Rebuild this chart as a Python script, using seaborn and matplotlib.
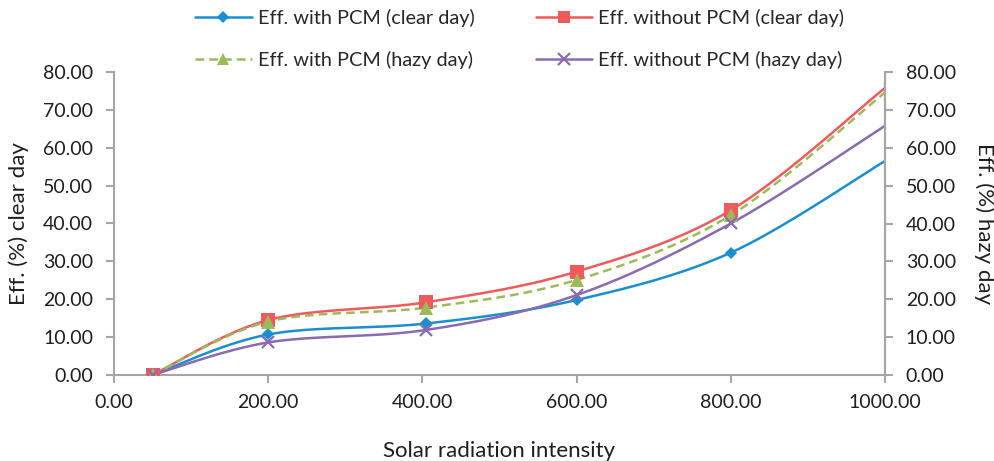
import numpy as np
import pandas as pd
import matplotlib
matplotlib.use("Agg")
import matplotlib.pyplot as plt
from matplotlib.lines import Line2D
import seaborn as sns

# ---- data ----
radiation = [50, 200, 405, 600, 800, 1000]
with_pcm_clear = [0.0, 10.7, 13.6, 19.8, 32.3, 56.5]
without_pcm_clear = [0.0, 14.5, 19.2, 27.3, 43.5, 75.8]
with_pcm_hazy = [0.0, 14.1, 17.8, 25.1, 42.2, 74.6]
without_pcm_hazy = [0.0, 8.6, 11.9, 21.1, 40.0, 65.8]
series_names = ["Eff. with PCM (clear day)", "Eff. without PCM (clear day)",
                "Eff. with PCM (hazy day)", "Eff. without PCM (hazy day)"]
x_ticks = [0, 200, 400, 600, 800, 1000]
y_ticks = [0, 10, 20, 30, 40, 50, 60, 70, 80]

sns.set_theme(style="white")
plt.rcParams["font.family"] = ["Lato", "DejaVu Sans"]

colors = ["#1a8fd0", "#f05a5a", "#9bbb59", "#8a6bb0"]
markers = ["D", "s", "^", "x"]
msizes = [6.5, 10, 10, 9]
styles = ["-", "-", (0, (3.5, 2)), "-"]
TXT = "#1e1e1e"


def smooth(xs, ys, sx=0.771, sy=3.79, n=40):
    # Catmull-Rom (Excel-like) smoothing in screen-scaled space
    P = np.column_stack([np.asarray(xs, float) * sx, np.asarray(ys, float) * sy])
    out = []
    for i in range(len(P) - 1):
        p0 = P[i - 1] if i > 0 else P[i]
        p1, p2 = P[i], P[i + 1]
        p3 = P[i + 2] if i + 2 < len(P) else P[i + 1]
        c1 = p1 + (p2 - p0) / 6
        c2 = p2 - (p3 - p1) / 6
        t = np.linspace(0, 1, n)[:, None]
        seg = ((1 - t) ** 3) * p1 + 3 * ((1 - t) ** 2) * t * c1 + 3 * (1 - t) * t ** 2 * c2 + t ** 3 * p2
        out.append(seg if i == 0 else seg[1:])
    S = np.vstack(out)
    return S[:, 0] / sx, S[:, 1] / sy


fig = plt.figure(figsize=(9.95, 4.61), dpi=100)
ax = fig.add_axes([114 / 995, 1 - 375 / 461, (885 - 114) / 995, (375 - 72) / 461])

all_series = [with_pcm_clear, without_pcm_clear, with_pcm_hazy, without_pcm_hazy]
handles = []
for k, (name, vals) in enumerate(zip(series_names, all_series)):
    sx_, sy_ = smooth(radiation, vals)
    df = pd.DataFrame({"x": sx_, "y": sy_})
    sns.lineplot(data=df, x="x", y="y", ax=ax, color=colors[k], lw=1.8,
                 sort=False, estimator=None)
    ax.lines[-1].set_linestyle(styles[k])
    px, py = radiation[:-1], vals[:-1]
    if markers[k] == "x":
        ax.plot(px, py, linestyle="none", marker="x", ms=msizes[k],
                mew=1.6, color=colors[k], zorder=5)
    else:
        ax.plot(px, py, linestyle="none", marker=markers[k], ms=msizes[k],
                mew=0, color=colors[k], zorder=5)
    handles.append(Line2D([0], [0], color=colors[k], lw=1.8, linestyle=styles[k],
                          marker=markers[k], ms=msizes[k] * 0.9,
                          mew=1.6 if markers[k] == "x" else 0))

ax.set_xlim(0, 1000)
ax.set_ylim(0, 80)
ax.set_xticks(x_ticks)
ax.set_xticklabels([f"{v:.2f}" for v in x_ticks])
ax.set_yticks(y_ticks)
ax.set_yticklabels([f"{v:.2f}" for v in y_ticks])

spine_c = "#a6a6a6"
for s in ["left", "bottom", "right"]:
    ax.spines[s].set_color(spine_c)
    ax.spines[s].set_linewidth(1.5)
ax.spines["top"].set_visible(False)
ax.tick_params(axis="both", which="major", direction="out", length=6, width=1.5,
               color=spine_c, labelsize=14, labelcolor=TXT, pad=9)
ax.tick_params(axis="x", bottom=True, pad=8)
ax.tick_params(axis="y", left=True)

ax.set_xlabel("Solar radiation intensity", fontsize=16, color=TXT, labelpad=21)
ax.set_ylabel("Eff. (%) clear day", fontsize=16, color=TXT, labelpad=10)

ax2 = ax.twinx()
ax2.set_ylim(0, 80)
ax2.set_yticks(y_ticks)
ax2.set_yticklabels([f"{v:.2f}" for v in y_ticks])
for s in ["left", "bottom", "top"]:
    ax2.spines[s].set_visible(False)
ax2.spines["right"].set_color(spine_c)
ax2.spines["right"].set_linewidth(1.5)
ax2.tick_params(axis="y", direction="out", length=6, width=1.5, color=spine_c,
                labelsize=14, labelcolor=TXT, right=True, pad=9)
ax2.set_ylabel("Eff. (%) hazy day", fontsize=16, color=TXT, rotation=270, labelpad=28)
ax2.grid(False)
ax.grid(False)

order = [0, 2, 1, 3]
fig.legend(handles=[handles[i] for i in order], labels=[series_names[i] for i in order],
           ncol=2, loc="upper left", bbox_to_anchor=(195 / 995, 1 - 9 / 461),
           borderaxespad=0, borderpad=0, frameon=False, fontsize=14.3,
           handlelength=2.85, columnspacing=3.1, labelspacing=1.18, handletextpad=0.3)

fig.savefig("out.png", dpi=100)
